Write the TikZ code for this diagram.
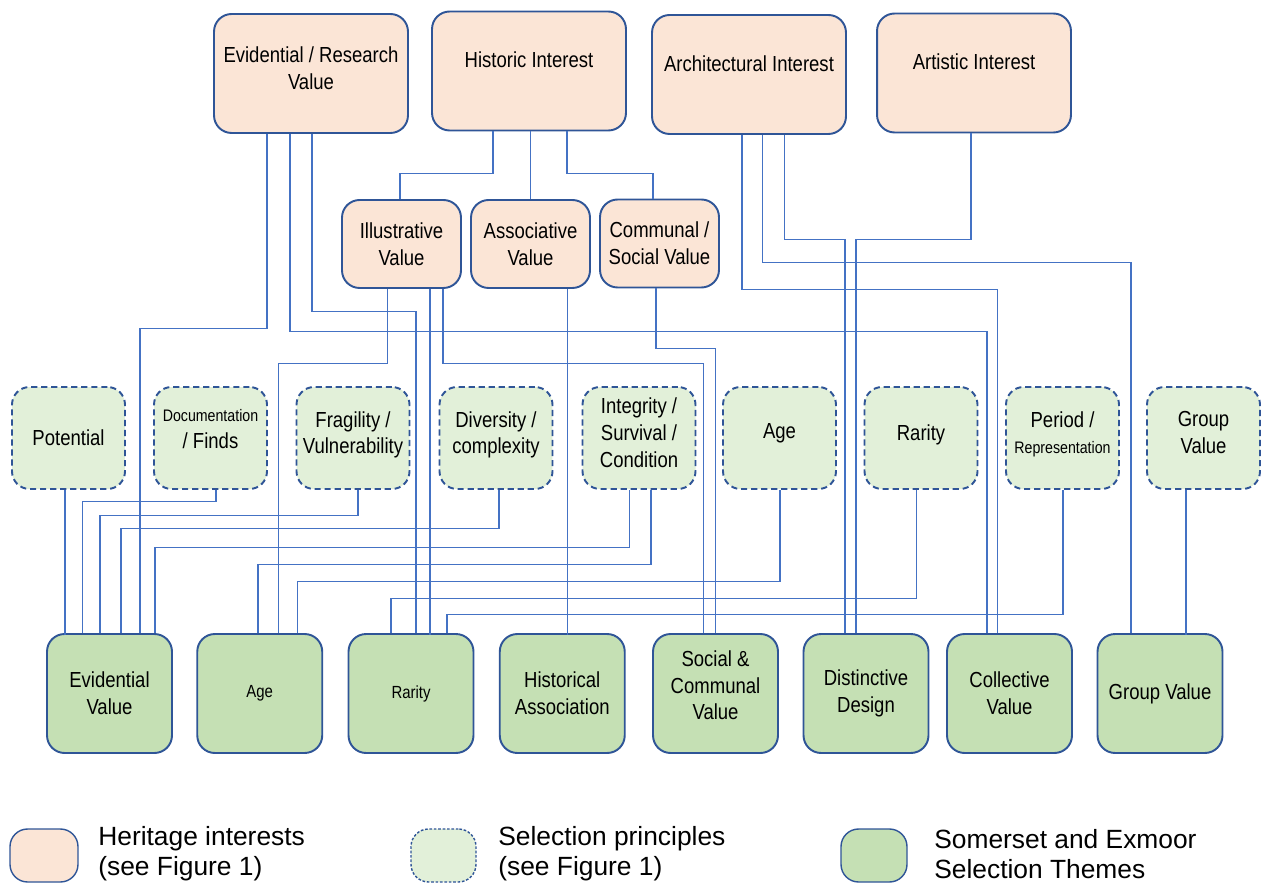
\documentclass[tikz,border=0pt]{standalone}
\usepackage{fontspec}
\setmainfont{Liberation Sans}
\newfontfamily\boxfont[FakeStretch=0.85]{Liberation Sans}
\usetikzlibrary{calc}
\definecolor{peach}{HTML}{FBE5D6}
\definecolor{palegreen}{HTML}{E2F0D9}
\definecolor{themegreen}{HTML}{C5E0B4}
\definecolor{edgeblue}{HTML}{2F5597}
\definecolor{linkblue}{HTML}{4472C4}

\begin{document}
\begin{tikzpicture}[x=0.02cm,y=-0.02cm]
        \tikzstyle{every node}+=[inner sep=0pt]
        \tikzstyle{box}=[draw=edgeblue, line width=1.1pt, rounded corners=10pt, align=center, font=\boxfont\fontsize{12.4}{15.2}\selectfont]
        \tikzstyle{heritage}=[box, fill=peach, minimum width=3.88cm, minimum height=2.38cm]
        \tikzstyle{subheritage}=[box, fill=peach, minimum width=2.38cm, minimum height=1.76cm]
        \tikzstyle{principle}=[box, fill=palegreen, dash pattern=on 3.5pt off 2.2pt, minimum width=2.26cm, minimum height=2.04cm, text depth=6pt]
        \tikzstyle{theme}=[box, fill=themegreen, minimum width=2.5cm, minimum height=2.38cm]
        \tikzstyle{smalltext}=[font=\boxfont\fontsize{10}{12}\selectfont]
        \tikzstyle{raised}=[text depth=12.8pt]
        \tikzstyle{link}=[draw=linkblue, line width=0.6pt]
        \tikzstyle{legendtext}=[anchor=west, align=left, font=\fontsize{15}{17.2}\selectfont]
        \useasboundingbox (0,0) rectangle (1263,884);
        \node [heritage, text depth=6pt] (evr) at (311,73.5) {Evidential / Research\\Value};
        \node [heritage, raised] (his) at (529,71) {Historic Interest};
        \node [heritage, raised] (arc) at (749,74.5) {Architectural Interest};
        \node [heritage, raised] (art) at (974,73) {Artistic Interest};
        \node [subheritage] (ill) at (401.5,244) {Illustrative\\Value};
        \node [subheritage] (ass) at (530.5,244) {Associative\\Value};
        \node [subheritage] (com) at (659.5,243.5) {Communal /\\Social Value};
        \node [principle, text depth=1pt] (pot) at (68.5,438) {Potential};
        \node [principle, text depth=10pt] (doc) at (210.5,438) {{\fontsize{9.5}{12}\selectfont Documentation}\\/ Finds};
        \node [principle] (fra) at (353,438) {Fragility /\\Vulnerability};
        \node [principle] (div) at (496,438) {Diversity /\\complexity};
        \node [principle] (int) at (639,438) {Integrity /\\Survival /\\Condition};
        \node [principle, text depth=8pt] (age) at (779.5,438) {Age};
        \node [principle] (rar) at (921,438) {Rarity};
        \node [principle] (per) at (1062.5,438) {Period /\\{\fontsize{9.5}{12}\selectfont Representation}};
        \node [principle] (grp) at (1203.5,438) {Group\\Value};
        \node [theme] (evv) at (109.5,693.5) {Evidential\\Value};
        \node [theme, smalltext] (agt) at (259.75,693.5) {Age};
        \node [theme, smalltext] (rat) at (411,693.5) {Rarity};
        \node [theme] (hia) at (562.25,693.5) {Historical\\Association};
        \node [theme, text depth=9.4pt] (soc) at (715.5,693.5) {Social \&\\Communal\\Value};
        \node [theme] (did) at (866,693.5) {Distinctive\\Design};
        \node [theme] (cov) at (1009.5,693.5) {Collective\\Value};
        \node [theme] (gvt) at (1160,693.5) {Group Value};
        \draw [link] ($(evr.south)+(-44,0)$) -- ++(0,195) -| ($(evv.north)+(30.5,0)$);
        \draw [link] ($(evr.south)+(-21,0)$) -- ++(0,198) -| ($(cov.north)+(-22.5,0)$);
        \draw [link] ($(evr.south)+(1,0)$) -- ++(0,178) -| ($(rat.north)+(5,0)$);
        \draw [link] ($(his.south)+(-36,0)$) -- ++(0,42) -| ($(ill.north)+(-1.5,0)$);
        \draw [link] (ass.north) -- (ass.north |- his.south);
        \draw [link] ($(his.south)+(38,0)$) -- ++(0,42) -| ($(com.north)+(-6.5,0)$);
        \draw [link] ($(ill.south)+(-14,0)$) -- ++(0,75) -| ($(agt.north)+(19,0)$);
        \draw [link] ($(ill.south)+(28.5,0)$) -- ++(0,346);
        \draw [link] ($(ill.south)+(41.5,0)$) -- ++(0,75) -| ($(soc.north)+(-12,0)$);
        \draw [link] ($(ass.south)+(37,0)$) -- ++(0,346);
        \draw [link] ($(com.south)+(-3.5,0)$) -- ++(0,60) -| (soc.north);
        \draw [link] ($(arc.south)+(-7,0)$) -- ++(0,155) -| ($(cov.north)+(-12,0)$);
        \draw [link] ($(arc.south)+(13.5,0)$) -- ++(0,128) -| ($(gvt.north)+(-29,0)$);
        \draw [link] ($(arc.south)+(35.5,0)$) -- ++(0,105) -| ($(did.north)+(-21,0)$);
        \draw [link] ($(art.south)+(-3,0)$) -- ++(0,106.5) -| ($(did.north)+(-10,0)$);
        \draw [link] ($(pot.south)+(-3.5,0)$) -- ++(0,145);
        \draw [link] ($(doc.south)+(5.5,0)$) -- ++(0,12) -| ($(evv.north)+(-27,0)$);
        \draw [link] ($(fra.south)+(5,0)$) -- ++(0,26) -| ($(evv.north)+(-9.5,0)$);
        \draw [link] ($(div.south)+(3,0)$) -- ++(0,39) -| ($(evv.north)+(11.5,0)$);
        \draw [link] ($(int.south)+(-9.5,0)$) -- ++(0,58) -| ($(evv.north)+(45.5,0)$);
        \draw [link] ($(int.south)+(12,0)$) -- ++(0,75) -| ($(agt.north)+(-1.75,0)$);
        \draw [link] ($(age.south)+(0.5,0)$) -- ++(0,92) -| ($(agt.north)+(38,0)$);
        \draw [link] ($(rar.south)+(-4.5,0)$) -- ++(0,109) -| ($(rat.north)+(-20,0)$);
        \draw [link] ($(per.south)+(0.5,0)$) -- ++(0,125) -| ($(rat.north)+(36,0)$);
        \draw [link] ($(grp.south)+(-17.5,0)$) -- ++(0,145);
        \node [box, fill=peach, line width=0.8pt, minimum width=1.36cm, minimum height=1.06cm] (keyher) at (44,855.5) {};
        \node [legendtext] (keyhertext) at (98,854) {Heritage interests\\(see Figure 1)};
        \node [box, fill=palegreen, line width=0.8pt, dash pattern=on 1.5pt off 1pt, minimum width=1.3cm, minimum height=1.06cm] (keypri) at (443.5,855.5) {};
        \node [legendtext] (keypritext) at (498,854) {Selection principles\\(see Figure 1)};
        \node [box, fill=themegreen, line width=0.8pt, minimum width=1.32cm, minimum height=1.06cm] (keythe) at (874,855.5) {};
        \node [legendtext] (keythetext) at (934,854) {Somerset and Exmoor\\Selection Themes};
\end{tikzpicture}
\end{document}
